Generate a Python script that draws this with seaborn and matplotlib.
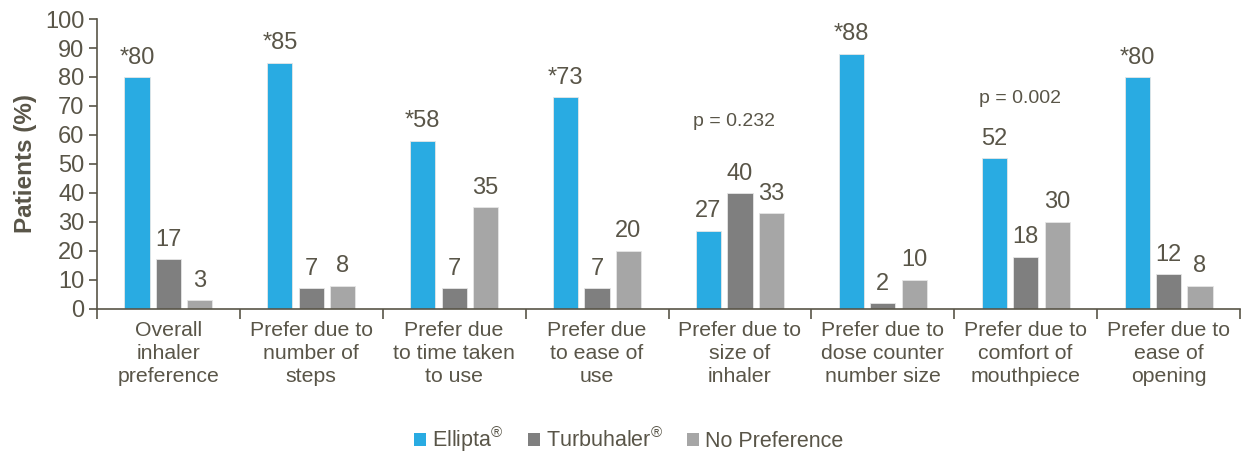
import matplotlib
matplotlib.use("Agg")
import matplotlib.pyplot as plt
import seaborn as sns
import pandas as pd
import numpy as np

categories = ["Overall\ninhaler\npreference", "Prefer due to\nnumber of\nsteps",
              "Prefer due\nto time taken\nto use", "Prefer due\nto ease of\nuse",
              "Prefer due to\nsize of\ninhaler", "Prefer due to\ndose counter\nnumber size",
              "Prefer due to\ncomfort of\nmouthpiece", "Prefer due to\nease of\nopening"]
series = ["Ellipta$^{®}$", "Turbuhaler$^{®}$", "No Preference"]
ellipta = [80, 85, 58, 73, 27, 88, 52, 80]
turbuhaler = [17, 7, 7, 7, 40, 2, 18, 12]
nopref = [3, 8, 35, 20, 33, 10, 30, 8]
significant = [True, True, True, True, False, True, False, True]
p_labels = {4: "p = 0.232", 6: "p = 0.002"}
yticks = list(range(0, 101, 10))

colors = ["#29ABE2", "#7F7F7F", "#A6A6A6"]
txt = "#595548"

rows = []
for i, c in enumerate(categories):
    for s, vals in zip(series, [ellipta, turbuhaler, nopref]):
        rows.append({"cat": c, "series": s, "value": vals[i]})
df = pd.DataFrame(rows)

sns.set_style("white")
plt.rcParams["font.family"] = ["Liberation Sans", "DejaVu Sans"]
plt.rcParams["mathtext.fontset"] = "custom"
plt.rcParams["mathtext.rm"] = "Liberation Sans"
plt.rcParams["mathtext.it"] = "Liberation Sans"

fig = plt.figure(figsize=(12.5, 4.54), dpi=100)
ax = fig.add_axes([0.0776, 0.32, 0.9144, 0.638])

sns.barplot(data=df, x="cat", y="value", hue="series", palette=colors,
            width=0.66, gap=0.2, ax=ax, legend=True, saturation=1,
            edgecolor="#e6e6e6", linewidth=0.6)

# value labels
for k, cont in enumerate(ax.containers):
    for i, bar in enumerate(cont):
        v = bar.get_height()
        lab = f"{int(v)}"
        if k == 0 and significant[i]:
            lab = "*" + lab
        ax.annotate(lab, (bar.get_x() + bar.get_width() / 2, v),
                    xytext=(0, 6), textcoords="offset points",
                    ha="center", va="bottom", fontsize=17, color=txt)

for i, t in p_labels.items():
    ax.text(i - 0.04, 64.5 if i == 4 else 72.5, t, ha="center", va="center",
            fontsize=14, color=txt)

ax.set_xlim(-0.5, len(categories) - 0.5)
ax.set_ylim(0, 100)
ax.set_yticks(yticks)
ax.set_xlabel("")
ax.set_ylabel("Patients (%)", fontsize=17.5, fontweight="bold", color=txt, labelpad=6)
for s in ["top", "right"]:
    ax.spines[s].set_visible(False)
for s in ["left", "bottom"]:
    ax.spines[s].set_color(txt)
    ax.spines[s].set_linewidth(1.2)
ax.tick_params(axis="y", labelsize=17, colors=txt, length=6, width=1.2, direction="out", left=True, pad=3)
ax.tick_params(axis="x", which="major", labelsize=15.3, colors=txt, length=0, pad=9)
ax.set_xticks(np.arange(-0.5, len(categories), 1.0), minor=True)
ax.tick_params(axis="x", which="minor", length=7, width=1.2, color=txt, bottom=True, direction="out")
for lab in ax.get_xticklabels():
    lab.set_linespacing(1.25)

leg = ax.legend(loc="center", bbox_to_anchor=(0.503, 0.032), bbox_transform=fig.transFigure,
                ncol=3, frameon=False,
                fontsize=15.5, handlelength=0.55, handleheight=0.55, handletextpad=0.3,
                columnspacing=1.1, labelcolor=txt)
for h in leg.legend_handles:
    h.set_edgecolor("none")

fig.savefig("out.png", dpi=100)
